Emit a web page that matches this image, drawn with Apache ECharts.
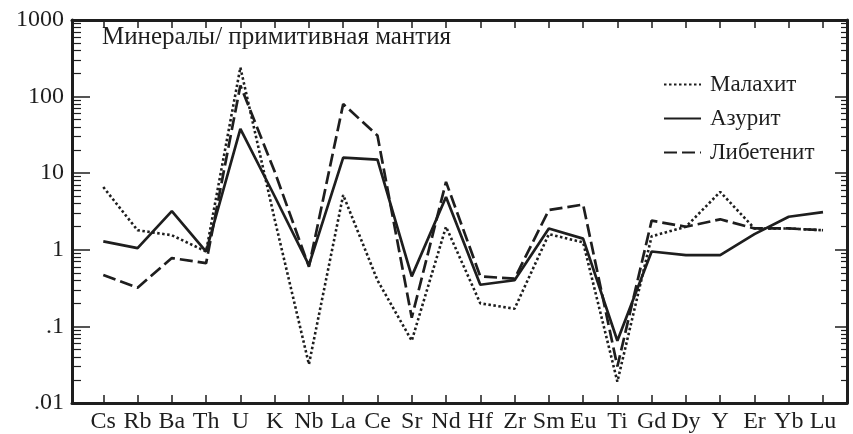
<!DOCTYPE html>
<html>
<head>
<meta charset="utf-8">
<script src="https://cdn.jsdelivr.net/npm/echarts@6/dist/echarts.min.js"></script>
<style>
  html, body { margin: 0; padding: 0; background: #fff; }
  #chart { width: 853px; height: 434px; }
</style>
</head>
<body>
<div id="chart"></div>
<script>
// elements along the x axis
var elements = ['Cs', 'Rb', 'Ba', 'Th', 'U', 'K', 'Nb', 'La', 'Ce', 'Sr', 'Nd',
  'Hf', 'Zr', 'Sm', 'Eu', 'Ti', 'Gd', 'Dy', 'Y', 'Er', 'Yb', 'Lu'];

// minerals / primitive mantle
var malachite = [6.6, 1.8, 1.55, 0.95, 240, 2.5, 0.032, 5.2, 0.4, 0.065, 2.0,
  0.2, 0.17, 1.6, 1.25, 0.019, 1.5, 2.0, 5.7, 1.9, 1.9, 1.8];
var azurite = [1.29, 1.05, 3.2, 0.95, 38, 5, 0.63, 16, 15, 0.45, 4.9,
  0.35, 0.4, 1.9, 1.4, 0.065, 0.95, 0.85, 0.85, 1.6, 2.7, 3.1];
var libethenite = [0.47, 0.32, 0.78, 0.67, 140, 10.5, 0.6, 80, 31, 0.13, 7.7,
  0.45, 0.42, 3.3, 3.9, 0.03, 2.4, 2.0, 2.5, 1.9, 1.9, 1.8];

var yTickValues = [0.01, 0.1, 1, 10, 100, 1000];
var yTickLabels = ['.01', '.1', '1', '10', '100', '1000'];

var ink = '#1e1e1e';
var font = 'Liberation Serif';

function toPoints(arr) {
  return arr.map(function (v, i) { return [i, v]; });
}

var indexTicks = elements.map(function (e, i) { return i; });

// minor log ticks (2..9 of each decade), in log10 space
var minorTicks = [];
for (var d = -2; d < 3; d++) {
  for (var m = 2; m < 10; m++) {
    minorTicks.push(d + Math.log10(m));
  }
}
var majorTicks = [-2, -1, 0, 1, 2, 3];

var lineAxis = { show: true, onZero: false, lineStyle: { color: ink, width: 3 } };
var noLine = { show: false, onZero: false };

var chart = echarts.init(document.getElementById('chart'));
var option = {
  animation: false,
  title: {
    text: 'Минералы/ примитивная мантия',
    left: 102,
    top: 25,
    padding: 0,
    textStyle: { fontFamily: font, fontSize: 25, fontWeight: 'normal', color: ink }
  },
  legend: {
    orient: 'vertical',
    left: 658,
    top: 68,
    itemWidth: 37,
    itemHeight: 14,
    itemGap: 11,
    itemStyle: { opacity: 0 },
    textStyle: { fontFamily: font, fontSize: 23, color: ink, padding: [0, 0, 0, 4] },
    data: ['Малахит', 'Азурит', 'Либетенит']
  },
  grid: { left: 72, right: 6, top: 20, bottom: 29 },
  xAxis: [
    {
      type: 'value',
      min: -0.913,
      max: 21.7,
      position: 'bottom',
      splitLine: { show: false },
      axisLine: lineAxis,
      axisTick: { inside: true, length: 8, customValues: indexTicks, lineStyle: { color: ink, width: 1.5 } },
      axisLabel: {
        customValues: indexTicks,
        margin: 7,
        fontFamily: font,
        fontSize: 24,
        color: ink,
        formatter: function (v) { return elements[Math.round(v)]; }
      }
    },
    {
      type: 'value',
      min: -0.913,
      max: 21.7,
      position: 'top',
      splitLine: { show: false },
      axisLine: lineAxis,
      axisTick: { inside: true, length: 8, customValues: indexTicks, lineStyle: { color: ink, width: 1.5 } },
      axisLabel: { show: false }
    }
  ],
  yAxis: [
    {
      type: 'log',
      logBase: 10,
      min: 0.01,
      max: 1000,
      position: 'left',
      splitLine: { show: false },
      axisLine: lineAxis,
      axisTick: { show: false },
      axisLabel: {
        margin: 8,
        fontFamily: font,
        fontSize: 24,
        color: ink,
        customValues: yTickValues,
        formatter: function (v) {
          var i = yTickValues.indexOf(v);
          return i >= 0 ? yTickLabels[i] : '';
        }
      }
    },
    {
      type: 'value', min: -2, max: 3, position: 'left', offset: 0,
      splitLine: { show: false }, axisLabel: { show: false },
      axisLine: noLine,
      axisTick: { inside: true, length: 18, customValues: majorTicks, lineStyle: { color: ink, width: 1.5 } }
    },
    {
      type: 'value', min: -2, max: 3, position: 'left', offset: 0,
      splitLine: { show: false }, axisLabel: { show: false },
      axisLine: noLine,
      axisTick: { inside: true, length: 9, customValues: minorTicks, lineStyle: { color: ink, width: 1.2 } }
    },
    {
      type: 'value', min: -2, max: 3, position: 'right', offset: 0,
      splitLine: { show: false }, axisLabel: { show: false },
      axisLine: lineAxis,
      axisTick: { inside: true, length: 12, customValues: majorTicks, lineStyle: { color: ink, width: 1.5 } }
    },
    {
      type: 'value', min: -2, max: 3, position: 'right', offset: 0,
      splitLine: { show: false }, axisLabel: { show: false },
      axisLine: noLine,
      axisTick: { inside: true, length: 6, customValues: minorTicks, lineStyle: { color: ink, width: 1.2 } }
    }
  ],
  series: [
    {
      name: 'Малахит',
      type: 'line',
      symbol: 'none',
      data: toPoints(malachite),
      lineStyle: { color: ink, width: 2.6, type: [2.5, 2.5] },
      itemStyle: { color: ink }
    },
    {
      name: 'Азурит',
      type: 'line',
      symbol: 'none',
      data: toPoints(azurite),
      lineStyle: { color: ink, width: 2.7, type: 'solid' },
      itemStyle: { color: ink }
    },
    {
      name: 'Либетенит',
      type: 'line',
      symbol: 'none',
      data: toPoints(libethenite),
      lineStyle: { color: ink, width: 2.7, type: [13, 5] },
      itemStyle: { color: ink }
    }
  ]
};
chart.setOption(option);
</script>
</body>
</html>
